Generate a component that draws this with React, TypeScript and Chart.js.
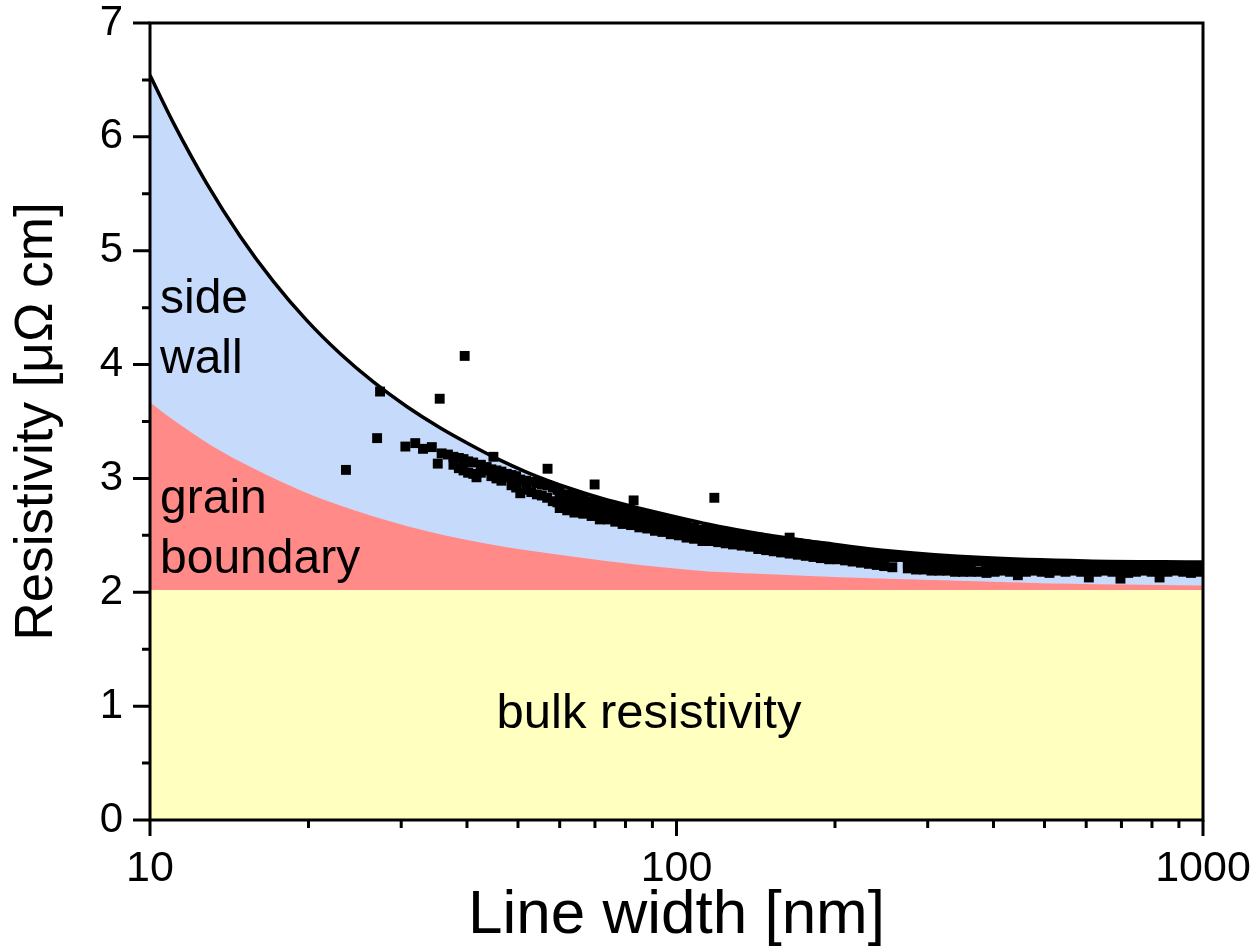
import React, { useEffect, useRef } from "react";
import { Chart, registerables } from "chart.js";

Chart.register(...registerables);

// ---- Data ----
// Total (theory) resistivity curve: bulk + grain boundary + side wall
const theoryWidth = [10, 11.07, 12.81, 14.83, 17.15, 19.85, 22.96, 26.56, 30.73, 35.55, 40.5, 45.6, 52, 62.4, 72.5, 84.2, 97.5, 112.4, 130, 150.6, 193, 258, 380, 598, 1000];
const theoryRho = [6.54, 6.125, 5.592, 5.128, 4.731, 4.388, 4.097, 3.847, 3.632, 3.445, 3.298, 3.174, 3.054, 2.916, 2.822, 2.744, 2.672, 2.607, 2.55, 2.5, 2.43, 2.36, 2.305, 2.275, 2.265];

// Bulk + grain boundary curve
const grainWidth = [10, 11.1, 13.08, 15.78, 19.34, 24.45, 33.36, 45.6, 62.4, 85.4, 110.8, 140, 200, 321, 500, 1000];
const grainRho = [3.67, 3.51, 3.29, 3.085, 2.895, 2.72, 2.54, 2.41, 2.318, 2.24, 2.19, 2.165, 2.135, 2.105, 2.08, 2.06];

// Bulk resistivity level
const bulkWidth = [10, 1000];
const bulkRho = [2.02, 2.02];

// Measured points: isolated points and the start of the cloud
const sparseWidth = [23.56, 27.0, 27.35, 30.55, 31.9, 33.0, 34.3, 35.2, 35.5, 35.8, 36.8, 37.7, 37.7, 38.6, 38.6, 39.4, 39.6, 39.4, 40.2, 40.2, 41.1, 41.1, 41.7, 42.5, 42.5, 43.6, 43.6, 44.5, 44.5, 44.9, 45.5, 45.5, 46.5, 46.5, 47.6, 47.6, 48.6, 48.6, 49.6, 49.6, 50.5, 50.5, 51.8, 51.8, 53.0, 53.0, 54.3, 54.3, 55.5, 55.5, 56.8, 56.8, 56.9, 58.2, 58.2, 59.4, 59.4, 69.9, 82.9, 118, 164];
const sparseRho = [3.075, 3.354, 3.763, 3.28, 3.31, 3.26, 3.275, 3.13, 3.7, 3.22, 3.21, 3.19, 3.12, 3.18, 3.09, 3.17, 4.076, 3.07, 3.15, 3.05, 3.14, 3.04, 3.01, 3.12, 3.05, 3.1, 3.07, 3.08, 3.02, 3.19, 3.07, 3.0, 3.06, 2.98, 3.04, 3.01, 3.03, 2.94, 3.02, 2.92, 2.99, 2.87, 2.98, 2.9, 2.97, 2.88, 2.96, 2.86, 2.95, 2.85, 2.94, 2.83, 3.085, 2.92, 2.8, 2.9, 2.79, 2.947, 2.807, 2.83, 2.48];

// Measured points: the dense band (upper, middle and lower rows of the cloud)
const bandWidth = [60, 62, 64, 66.5, 69, 71.5, 74, 76.5, 79, 82, 85, 88, 91, 94, 97.5, 101, 104.5, 108, 112, 116, 120, 124, 128, 133, 138, 143, 148, 153, 158, 164, 170, 176, 182, 188, 195, 202, 209, 216, 224, 232, 240, 248, 257, 266, 275, 285, 295, 305, 316, 327, 338, 350, 362, 375, 388, 402, 416, 430, 445, 461, 477, 494, 511, 529, 548, 567, 587, 607, 628, 650, 673, 697, 721, 746, 772, 799, 827, 856, 886, 917, 949, 982];
const bandUpper = [2.89, 2.86, 2.85, 2.83, 2.8, 2.78, 2.76, 2.74, 2.73, 2.71, 2.69, 2.67, 2.66, 2.64, 2.62, 2.61, 2.59, 2.57, 2.55, 2.54, 2.53, 2.52, 2.51, 2.5, 2.49, 2.48, 2.47, 2.46, 2.45, 2.44, 2.43, 2.42, 2.41, 2.4, 2.39, 2.38, 2.37, 2.36, 2.35, 2.34, 2.33, 2.32, 2.31, 2.31, 2.3, 2.3, 2.29, 2.29, 2.28, 2.28, 2.28, 2.27, 2.27, 2.27, 2.26, 2.26, 2.25, 2.25, 2.25, 2.25, 2.24, 2.24, 2.24, 2.24, 2.24, 2.23, 2.23, 2.23, 2.23, 2.23, 2.22, 2.22, 2.22, 2.22, 2.22, 2.22, 2.23, 2.22, 2.22, 2.23, 2.22, 2.23];
const bandMiddle = [2.81, 2.79, 2.78, 2.76, 2.74, 2.71, 2.7, 2.68, 2.67, 2.65, 2.63, 2.61, 2.6, 2.59, 2.57, 2.55, 2.54, 2.52, 2.5, 2.49, 2.48, 2.47, 2.46, 2.45, 2.44, 2.43, 2.42, 2.41, 2.4, 2.39, 2.38, 2.37, 2.36, 2.35, 2.34, 2.33, 2.32, 2.31, 2.3, 2.29, 2.29, 2.28, null, null, 2.25, 2.25, 2.24, 2.24, 2.23, 2.23, 2.23, 2.22, 2.22, null, 2.21, 2.21, null, null, 2.21, null, null, null, 2.21, null, null, null, null, 2.2, null, null, null, 2.2, null, null, null, null, 2.2, null, null, null, null, null];
const bandLower = [2.74, 2.72, 2.7, 2.69, 2.67, 2.64, 2.64, 2.62, 2.6, 2.59, 2.57, 2.56, 2.54, 2.53, 2.51, 2.5, 2.48, 2.47, 2.45, 2.45, 2.44, 2.43, 2.42, 2.41, 2.4, 2.38, 2.37, 2.36, 2.35, 2.34, 2.33, 2.32, 2.31, 2.3, 2.29, 2.29, 2.28, 2.27, 2.26, 2.25, 2.24, 2.23, 2.22, null, 2.21, 2.2, 2.2, 2.19, 2.19, 2.19, 2.18, 2.18, 2.18, 2.18, 2.17, 2.18, 2.19, 2.18, 2.15, 2.18, 2.19, 2.18, 2.17, 2.19, 2.18, 2.19, 2.18, 2.13, 2.18, 2.19, 2.18, 2.12, 2.17, 2.18, 2.19, 2.18, 2.13, 2.18, 2.19, 2.18, 2.17, 2.18];

// Axis ticks
const xMajorTicks = [10, 100, 1000];
const xMinorTicks = [20, 30, 40, 50, 60, 70, 80, 90, 200, 300, 400, 500, 600, 700, 800, 900];
const yMajorTicks = [0, 1, 2, 3, 4, 5, 6, 7];
const yMinorTicks = [0.5, 1.5, 2.5, 3.5, 4.5, 5.5, 6.5];

const xTitle = "Line width [nm]";
const yTitle = "Resistivity [μΩ cm]";

// ---- Styles ----
const FONT = '"Liberation Sans", Arial, Helvetica, sans-serif';
const YELLOW = "#FFFFBF";
const RED = "#FF8A87";
const BLUE = "#C6DAFC";

const framePlugin = {
  id: "framePlugin",
  afterDraw(chart: any) {
    const { ctx, chartArea: a, scales } = chart;
    const xs = scales.x;
    const ys = scales.y;
    ctx.save();
    ctx.strokeStyle = "#000";
    ctx.lineWidth = 3;
    ctx.lineCap = "butt";
    ctx.strokeRect(a.left, a.top, a.right - a.left, a.bottom - a.top);
    ctx.beginPath();
    for (const v of yMajorTicks) {
      const p = ys.getPixelForValue(v);
      ctx.moveTo(a.left - 17, p);
      ctx.lineTo(a.left, p);
    }
    for (const v of yMinorTicks) {
      const p = ys.getPixelForValue(v);
      ctx.moveTo(a.left - 8, p);
      ctx.lineTo(a.left, p);
    }
    for (const v of xMajorTicks) {
      const p = xs.getPixelForValue(v);
      ctx.moveTo(p, a.bottom);
      ctx.lineTo(p, a.bottom + 16);
    }
    for (const v of xMinorTicks) {
      const p = xs.getPixelForValue(v);
      ctx.moveTo(p, a.bottom);
      ctx.lineTo(p, a.bottom + 8);
    }
    ctx.stroke();

    ctx.fillStyle = "#000";
    ctx.font = `48px ${FONT}`;
    ctx.textBaseline = "alphabetic";
    ctx.textAlign = "left";
    ctx.fillText("side", 160, 313);
    ctx.fillText("wall", 160, 373);
    ctx.fillText("grain", 160, 513);
    ctx.fillText("boundary", 160, 573);
    ctx.textAlign = "center";
    ctx.font = `49px ${FONT}`;
    ctx.fillText("bulk resistivity", 649, 728);
    ctx.restore();
  },
};

function pairs(xsArr: number[], ysArr: (number | null)[]) {
  return xsArr.map((x, i) => ({ x, y: ysArr[i] }));
}

export default function App() {
  const ref = useRef<HTMLCanvasElement | null>(null);

  useEffect(() => {
    if (!ref.current) return;
    const measured = [
      ...pairs(sparseWidth, sparseRho),
      ...pairs(bandWidth, bandUpper),
      ...pairs(bandWidth, bandMiddle),
      ...pairs(bandWidth, bandLower),
    ].filter((p) => p.y !== null);

    const chart = new Chart(ref.current, {
      type: "line",
      data: {
        datasets: [
          {
            label: "bulk",
            data: pairs(bulkWidth, bulkRho),
            fill: "origin",
            backgroundColor: YELLOW,
            borderColor: YELLOW,
            borderWidth: 1,
            pointRadius: 0,
            order: 3,
          },
          {
            label: "grain boundary",
            data: pairs(grainWidth, grainRho),
            fill: 0,
            backgroundColor: RED,
            borderColor: RED,
            borderWidth: 1,
            pointRadius: 0,
            cubicInterpolationMode: "monotone",
            order: 2,
          },
          {
            label: "side wall",
            data: pairs(theoryWidth, theoryRho),
            fill: 1,
            backgroundColor: BLUE,
            borderColor: "#000",
            borderWidth: 3.5,
            pointRadius: 0,
            cubicInterpolationMode: "monotone",
            order: 1,
          },
          {
            label: "measured",
            data: measured as any,
            showLine: false,
            pointStyle: "rect",
            pointRadius: 7,
            pointBackgroundColor: "#000",
            pointBorderColor: "#000",
            pointBorderWidth: 0,
            order: 0,
          },
        ] as any,
      },
      options: {
        responsive: false,
        maintainAspectRatio: false,
        devicePixelRatio: 1,
        animation: false,
        events: [],
        layout: { padding: { left: 0, top: 23, right: 52, bottom: 0 } },
        plugins: {
          legend: { display: false },
          tooltip: { enabled: false },
        },
        scales: {
          x: {
            type: "logarithmic",
            position: "bottom",
            min: 10,
            max: 1000,
            grid: { display: false, drawTicks: false, tickLength: 0 },
            border: { display: false },
            ticks: {
              color: "#000",
              font: { family: FONT, size: 43 },
              padding: 23,
              maxRotation: 0,
              autoSkip: false,
              callback: (v: any) => String(v),
            },
            afterBuildTicks: (s: any) => {
              s.ticks = xMajorTicks.map((v) => ({ value: v }));
            },
            afterFit: (s: any) => {
              s.height = 129;
              s.paddingLeft = 0;
              s.paddingRight = 0;
            },
            title: {
              display: true,
              text: xTitle,
              color: "#000",
              font: { family: FONT, size: 62, lineHeight: 1 },
              padding: { top: 0, bottom: 2 },
            },
          },
          y: {
            type: "linear",
            min: 0,
            max: 7,
            grid: { display: false, drawTicks: false, tickLength: 0 },
            border: { display: false },
            ticks: {
              stepSize: 1,
              color: "#000",
              font: { family: FONT, size: 42 },
              padding: 27,
            },
            afterFit: (s: any) => {
              s.width = 150;
              s.paddingTop = 0;
              s.paddingBottom = 0;
            },
            title: {
              display: true,
              text: yTitle,
              color: "#000",
              font: { family: FONT, size: 53 },
              padding: { top: 6, bottom: 0 },
            },
          },
        },
      } as any,
      plugins: [framePlugin],
    });
    return () => chart.destroy();
  }, []);

  return (
    <div style={{ position: "absolute", left: 0, top: 0, width: 1255, height: 949, background: "#fff" }}>
      <canvas ref={ref} width={1255} height={949} style={{ display: "block", width: 1255, height: 949 }} />
    </div>
  );
}
